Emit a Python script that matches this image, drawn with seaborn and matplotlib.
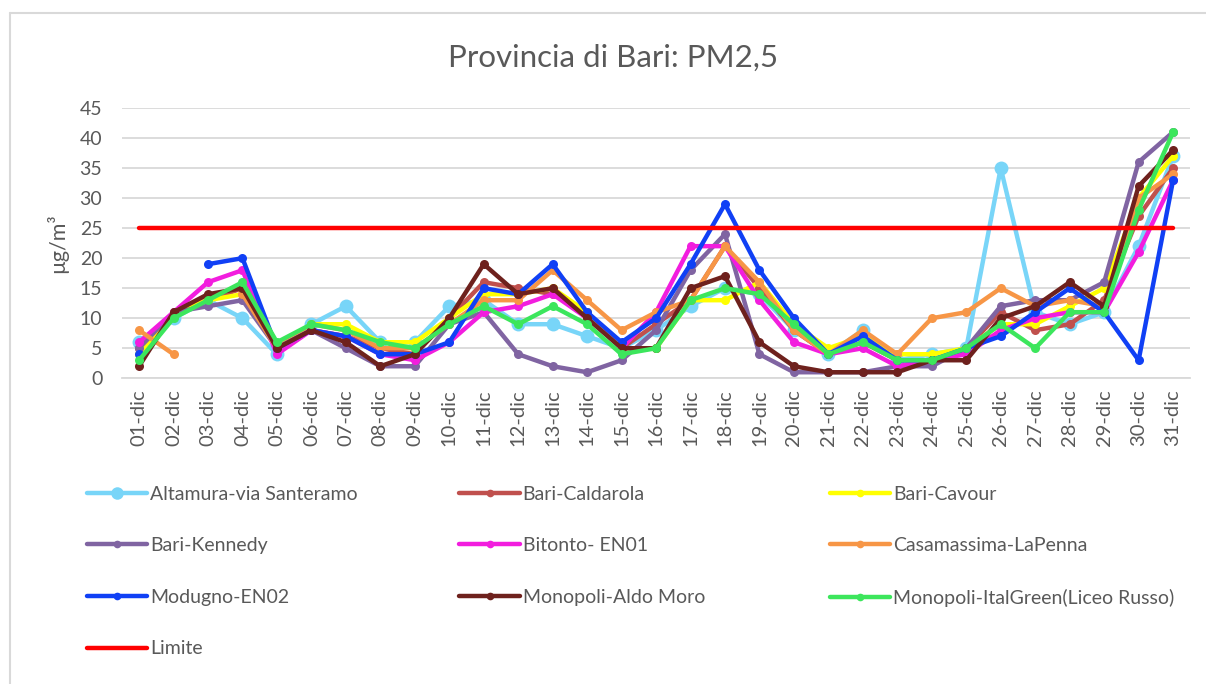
import numpy as np
import pandas as pd
import matplotlib
matplotlib.use("Agg")
import matplotlib.pyplot as plt
from matplotlib.lines import Line2D
import seaborn as sns

# Days of December
days = [f"{d:02d}-dic" for d in range(1, 32)]

nan = np.nan
# PM2.5 daily values (µg/m3)
altamura = [6, 10, 13, 10, 4, 9, 12, 6, 6, 12, 13, 9, 9, 7, 5, 8, 12, 15, 14, 8, 4, 8, 3, 4, 5, 35, 11, 9, 11, 22, 37]
caldarola = [5, 11, 13, 15, 5, 8, 7, 5, 4, 10, 16, 15, 14, 11, 5, 9, 13, 22, 15, 8, 4, 6, 3, 3, 5, 11, 8, 9, 13, 27, 35]
cavour = [4, 11, 13, 14, 5, 9, 9, 6, 6, 10, 14, 14, 15, 11, 5, 5, 13, 13, 16, 9, 5, 7, 4, 4, 5, 9, 9, 12, 15, 30, 37]
kennedy = [5, 11, 12, 13, 5, 8, 5, 2, 2, 9, 11, 4, 2, 1, 3, 8, 18, 24, 4, 1, 1, 1, 2, 2, 5, 12, 13, 13, 16, 36, 41]
bitonto = [6, 11, 16, 18, 4, 8, 7, 4, 3, 6, 11, 12, 14, 10, 5, 11, 22, 22, 13, 6, 4, 5, 2, 3, 4, 8, 10, 11, 11, 21, 33]
casamassima = [8, 4, nan, 14, 5, 9, 8, 5, 5, 9, 13, 13, 18, 13, 8, 11, 13, 22, 16, 8, 4, 8, 4, 10, 11, 15, 12, 13, 12, 30, 34]
modugno = [4, nan, 19, 20, 5, 8, 7, 4, 4, 6, 15, 14, 19, 11, 6, 10, 19, 29, 18, 10, 4, 7, 3, 3, 5, 7, 11, 15, 11, 3, 33]
aldo_moro = [2, 11, 14, 15, 5, 8, 6, 2, 4, 10, 19, 14, 15, 10, 5, 5, 15, 17, 6, 2, 1, 1, 1, 3, 3, 10, 12, 16, 12, 32, 38]
italgreen = [3, 10, 13, 16, 6, 9, 8, 6, 5, 9, 12, 9, 12, 9, 4, 5, 13, 15, 14, 9, 4, 6, 3, 3, 5, 9, 5, 11, 11, 28, 41]
limite = [25] * 31

stations = ["Altamura-via Santeramo", "Bari-Caldarola", "Bari-Cavour", "Bari-Kennedy",
            "Bitonto- EN01", "Casamassima-LaPenna", "Modugno-EN02", "Monopoli-Aldo Moro",
            "Monopoli-ItalGreen(Liceo Russo)"]
values = [altamura, caldarola, cavour, kennedy, bitonto, casamassima, modugno, aldo_moro, italgreen]
colors = ["#78D5F8", "#C0504D", "#FFFF00", "#8064A2", "#F21DDE", "#F79646",
          "#1040F5", "#6E211D", "#3CE65C"]
palette = dict(zip(stations, colors))

# long table; a new segment starts after each missing value so gaps stay open
rows = []
for name, vals in zip(stations, values):
    seg = 0
    for day, v in zip(days, vals):
        if np.isnan(v):
            seg += 1
            continue
        rows.append({"giorno": day, "valore": v, "stazione": name, "seg": seg})
df = pd.DataFrame(rows)
lim_df = pd.DataFrame({"giorno": days, "valore": limite})

sns.set_style("white")
plt.rcParams["font.family"] = ["Lato", "DejaVu Sans"]
grey = "#595959"

fig = plt.figure(figsize=(12.06, 6.84), dpi=100)
ax = fig.add_axes([0.101, 0.447, 0.886, 0.395])

# Altamura first, with bigger markers
sns.lineplot(data=df[df.stazione == stations[0]], x="giorno", y="valore", hue="stazione",
             units="seg", estimator=None, palette=palette, marker="o", markersize=10,
             markeredgewidth=0, linewidth=3.2, legend=False, ax=ax)
sns.lineplot(data=df[df.stazione != stations[0]], x="giorno", y="valore", hue="stazione",
             units="seg", estimator=None, palette=palette, marker="o", markersize=6.5,
             markeredgewidth=0, linewidth=3.2, legend=False, ax=ax)
sns.lineplot(data=lim_df, x="giorno", y="valore", color="#FF0000", linewidth=3.2,
             legend=False, ax=ax)

ax.set_xlim(-0.5, 30.5)
ax.set_ylim(0, 45)
ax.set_yticks(range(0, 50, 5))
ax.set_xticks(range(len(days)))
ax.set_xticklabels(days, rotation=90)
ax.set_xticks(np.arange(-0.5, 31, 1), minor=True)
ax.tick_params(axis="x", which="major", length=0, pad=8, labelsize=14.5, labelcolor=grey)
ax.tick_params(axis="x", which="minor", length=6, color="#D9D9D9", width=1.2)
ax.tick_params(axis="y", length=0, pad=14, labelsize=14, labelcolor=grey)
ax.grid(axis="y", color="#D9D9D9", linewidth=1.3)
ax.set_axisbelow(True)
for s in ["top", "right", "left"]:
    ax.spines[s].set_visible(False)
ax.spines["bottom"].set_color("#D9D9D9")
ax.spines["bottom"].set_linewidth(1.3)
ax.set_xlabel("")
ax.set_ylabel("µg/m³", fontsize=15.5, color=grey, labelpad=8)

fig.text(0.508, 0.915, "Provincia di Bari: PM2,5", ha="center", va="center",
         fontsize=22.5, color=grey)

# chart frame like the spreadsheet
fig.add_artist(Line2D([0.0085, 0.0085], [0, 0.981], color="#D9D9D9", lw=1.5))
fig.add_artist(Line2D([0.0085, 1.0], [0.981, 0.981], color="#D9D9D9", lw=1.5))

# legend in three columns, row-major like the original
def handle(name, color, ms=5.5, marker="o"):
    return Line2D([], [], color=color, lw=3.2, marker=marker, markersize=ms,
                  markeredgewidth=0)

h = {n: handle(n, palette[n], 9 if n == stations[0] else 5.5) for n in stations}
h["Limite"] = Line2D([], [], color="#FF0000", lw=3.2)
cols = [
    (["Altamura-via Santeramo", "Bari-Kennedy", "Modugno-EN02", "Limite"], 0.072),
    (["Bari-Caldarola", "Bitonto- EN01", "Monopoli-Aldo Moro"], 0.381),
    (["Bari-Cavour", "Casamassima-LaPenna", "Monopoli-ItalGreen(Liceo Russo)"], 0.688),
]
for names, x0 in cols:
    fig.legend([h[n] for n in names], names, loc="upper left", bbox_to_anchor=(x0, 0.29),
               frameon=False, fontsize=14, labelcolor=grey, handlelength=3.1,
               handletextpad=0.15, labelspacing=1.78, borderpad=0, borderaxespad=0)

fig.savefig("out.png", dpi=100)
